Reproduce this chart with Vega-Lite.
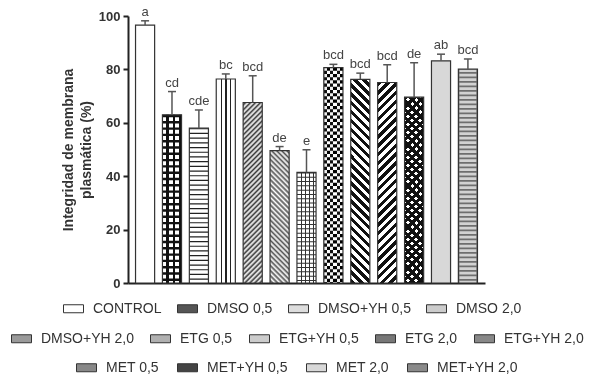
{
"$schema":"https://vega.github.io/schema/vega-lite/v6.json",
"width":357,"height":267,
"autosize":{"type":"none"},
"padding":{"left":128,"top":16,"right":107,"bottom":95},
"background":"white",
"data":{"values":[
{"treatment":"CONTROL","value":96.6,"err":98.2,"letter":"a"},
{"treatment":"DMSO 0,5","value":63.0,"err":71.7,"letter":"cd"},
{"treatment":"DMSO+YH 0,5","value":58.0,"err":64.8,"letter":"cde"},
{"treatment":"DMSO 2,0","value":76.4,"err":78.3,"letter":"bc"},
{"treatment":"DMSO+YH 2,0","value":67.6,"err":77.6,"letter":"bcd"},
{"treatment":"ETG 0,5","value":49.6,"err":51.1,"letter":"de"},
{"treatment":"ETG+YH 0,5","value":41.4,"err":49.9,"letter":"e"},
{"treatment":"ETG 2,0","value":80.7,"err":81.9,"letter":"bcd"},
{"treatment":"ETG+YH 2,0","value":76.3,"err":78.6,"letter":"bcd"},
{"treatment":"MET 0,5","value":75.1,"err":81.7,"letter":"bcd"},
{"treatment":"MET+YH 0,5","value":69.6,"err":82.5,"letter":"de"},
{"treatment":"MET 2,0","value":83.2,"err":85.7,"letter":"ab"},
{"treatment":"MET+YH 2,0","value":80.1,"err":83.9,"letter":"bcd"}
]},
"encoding":{
"x":{"field":"treatment","type":"nominal","sort":null,
"scale":{"domain":["CONTROL","DMSO 0,5","DMSO+YH 0,5","DMSO 2,0","DMSO+YH 2,0","ETG 0,5","ETG+YH 0,5","ETG 2,0","ETG+YH 2,0","MET 0,5","MET+YH 0,5","MET 2,0","MET+YH 2,0"],"paddingInner":0.29,"paddingOuter":0.28},
"axis":{"labels":false,"ticks":false,"title":null,"domainColor":"#222","domainWidth":2}},
"y":{"field":"value","type":"quantitative","scale":{"domain":[0,100],"nice":false},"title":["Integridad de membrana","plasmática (%)"],
"axis":{"values":[0,20,40,60,80,100],"grid":false,"domainColor":"#222","domainWidth":2,"tickColor":"#222","tickWidth":2,"tickSize":5,"labelFontSize":13,"labelFontWeight":"bold","labelColor":"#333","labelPadding":3,"titleFontSize":14,"titleFontWeight":"bold","titleColor":"#333","titlePadding":5,"titleLineHeight":18}}
},
"layer":[
{"transform":[{"filter":{"field":"treatment","oneOf":["CONTROL","DMSO 0,5","DMSO+YH 0,5","DMSO 2,0"]}}],
"mark":{"type":"bar","strokeWidth":0},
"encoding":{"fill":{"field":"treatment","type":"nominal","sort":null,
"scale":{"domain":["CONTROL","DMSO 0,5","DMSO+YH 0,5","DMSO 2,0"],"range":["#ffffff","#555555","#dddddd","#cccccc"]},
"condition":[
{"test":"datum.treatment === 'DMSO 0,5'","value":{"gradient":"linear","x1":0,"y1":0,"x2":1,"y2":0,"stops":[{"offset":0,"color":"#fff"},{"offset":0.2,"color":"#fff"},{"offset":0.2,"color":"#111"},{"offset":0.34,"color":"#111"},{"offset":0.34,"color":"#fff"},{"offset":0.53,"color":"#fff"},{"offset":0.53,"color":"#111"},{"offset":0.67,"color":"#111"},{"offset":0.67,"color":"#fff"},{"offset":0.86,"color":"#fff"},{"offset":0.86,"color":"#111"},{"offset":1,"color":"#111"}]}},
{"test":"datum.treatment === 'DMSO+YH 0,5'","value":"#ffffff"},
{"test":"datum.treatment === 'DMSO 2,0'","value":{"gradient":"linear","x1":0,"y1":0,"x2":1,"y2":0,"stops":[{"offset":0,"color":"#fff"},{"offset":0.23,"color":"#fff"},{"offset":0.23,"color":"#222"},{"offset":0.29,"color":"#222"},{"offset":0.29,"color":"#fff"},{"offset":0.48,"color":"#fff"},{"offset":0.48,"color":"#222"},{"offset":0.54,"color":"#222"},{"offset":0.54,"color":"#fff"},{"offset":0.73,"color":"#fff"},{"offset":0.73,"color":"#222"},{"offset":0.79,"color":"#222"},{"offset":0.79,"color":"#fff"},{"offset":1,"color":"#fff"}]}}
],
"legend":{"title":null,"orient":"none","legendX":-65,"legendY":282,"direction":"horizontal","columns":4,"symbolType":"M-1,-0.4H1V0.4H-1Z","symbolSize":400,"symbolStrokeColor":"#333","symbolStrokeWidth":1,"labelFontSize":14,"labelColor":"#333","labelOffset":9,"columnPadding":13,"padding":0,"labelLimit":300}}}},
{"transform":[{"filter":{"field":"treatment","oneOf":["DMSO+YH 2,0","ETG 0,5","ETG+YH 0,5","ETG 2,0","ETG+YH 2,0"]}}],
"mark":{"type":"bar","strokeWidth":0},
"encoding":{"fill":{"field":"treatment","type":"nominal","sort":null,
"scale":{"domain":["DMSO+YH 2,0","ETG 0,5","ETG+YH 0,5","ETG 2,0","ETG+YH 2,0"],"range":["#9a9a9a","#b0b0b0","#cccccc","#777777","#888888"]},
"condition":[
{"test":"datum.treatment === 'DMSO+YH 2,0'","value":{"gradient":"linear","x1":0,"y1":0,"x2":0.1157,"y2":1.0936,"stops":[{"offset":0,"color":"#fff"},{"offset":0.0125,"color":"#3a3a3a"},{"offset":0.025,"color":"#fff"},{"offset":0.0375,"color":"#3a3a3a"},{"offset":0.05,"color":"#fff"},{"offset":0.0625,"color":"#3a3a3a"},{"offset":0.075,"color":"#fff"},{"offset":0.0875,"color":"#3a3a3a"},{"offset":0.1,"color":"#fff"},{"offset":0.1125,"color":"#3a3a3a"},{"offset":0.125,"color":"#fff"},{"offset":0.1375,"color":"#3a3a3a"},{"offset":0.15,"color":"#fff"},{"offset":0.1625,"color":"#3a3a3a"},{"offset":0.175,"color":"#fff"},{"offset":0.1875,"color":"#3a3a3a"},{"offset":0.2,"color":"#fff"},{"offset":0.2125,"color":"#3a3a3a"},{"offset":0.225,"color":"#fff"},{"offset":0.2375,"color":"#3a3a3a"},{"offset":0.25,"color":"#fff"},{"offset":0.2625,"color":"#3a3a3a"},{"offset":0.275,"color":"#fff"},{"offset":0.2875,"color":"#3a3a3a"},{"offset":0.3,"color":"#fff"},{"offset":0.3125,"color":"#3a3a3a"},{"offset":0.325,"color":"#fff"},{"offset":0.3375,"color":"#3a3a3a"},{"offset":0.35,"color":"#fff"},{"offset":0.3625,"color":"#3a3a3a"},{"offset":0.375,"color":"#fff"},{"offset":0.3875,"color":"#3a3a3a"},{"offset":0.4,"color":"#fff"},{"offset":0.4125,"color":"#3a3a3a"},{"offset":0.425,"color":"#fff"},{"offset":0.4375,"color":"#3a3a3a"},{"offset":0.45,"color":"#fff"},{"offset":0.4625,"color":"#3a3a3a"},{"offset":0.475,"color":"#fff"},{"offset":0.4875,"color":"#3a3a3a"},{"offset":0.5,"color":"#fff"},{"offset":0.5125,"color":"#3a3a3a"},{"offset":0.525,"color":"#fff"},{"offset":0.5375,"color":"#3a3a3a"},{"offset":0.55,"color":"#fff"},{"offset":0.5625,"color":"#3a3a3a"},{"offset":0.575,"color":"#fff"},{"offset":0.5875,"color":"#3a3a3a"},{"offset":0.6,"color":"#fff"},{"offset":0.6125,"color":"#3a3a3a"},{"offset":0.625,"color":"#fff"},{"offset":0.6375,"color":"#3a3a3a"},{"offset":0.65,"color":"#fff"},{"offset":0.6625,"color":"#3a3a3a"},{"offset":0.675,"color":"#fff"},{"offset":0.6875,"color":"#3a3a3a"},{"offset":0.7,"color":"#fff"},{"offset":0.7125,"color":"#3a3a3a"},{"offset":0.725,"color":"#fff"},{"offset":0.7375,"color":"#3a3a3a"},{"offset":0.75,"color":"#fff"},{"offset":0.7625,"color":"#3a3a3a"},{"offset":0.775,"color":"#fff"},{"offset":0.7875,"color":"#3a3a3a"},{"offset":0.8,"color":"#fff"},{"offset":0.8125,"color":"#3a3a3a"},{"offset":0.825,"color":"#fff"},{"offset":0.8375,"color":"#3a3a3a"},{"offset":0.85,"color":"#fff"},{"offset":0.8625,"color":"#3a3a3a"},{"offset":0.875,"color":"#fff"},{"offset":0.8875,"color":"#3a3a3a"},{"offset":0.9,"color":"#fff"},{"offset":0.9125,"color":"#3a3a3a"},{"offset":0.925,"color":"#fff"},{"offset":0.9375,"color":"#3a3a3a"},{"offset":0.95,"color":"#fff"},{"offset":0.9625,"color":"#3a3a3a"},{"offset":0.975,"color":"#fff"},{"offset":0.9875,"color":"#3a3a3a"},{"offset":1,"color":"#fff"}]}},
{"test":"datum.treatment === 'ETG 0,5'","value":{"gradient":"linear","x1":0,"y1":1,"x2":0.1617,"y2":-0.1209,"stops":[{"offset":0,"color":"#fff"},{"offset":0.0167,"color":"#555"},{"offset":0.0333,"color":"#fff"},{"offset":0.05,"color":"#555"},{"offset":0.0667,"color":"#fff"},{"offset":0.0833,"color":"#555"},{"offset":0.1,"color":"#fff"},{"offset":0.1167,"color":"#555"},{"offset":0.1333,"color":"#fff"},{"offset":0.15,"color":"#555"},{"offset":0.1667,"color":"#fff"},{"offset":0.1833,"color":"#555"},{"offset":0.2,"color":"#fff"},{"offset":0.2167,"color":"#555"},{"offset":0.2333,"color":"#fff"},{"offset":0.25,"color":"#555"},{"offset":0.2667,"color":"#fff"},{"offset":0.2833,"color":"#555"},{"offset":0.3,"color":"#fff"},{"offset":0.3167,"color":"#555"},{"offset":0.3333,"color":"#fff"},{"offset":0.35,"color":"#555"},{"offset":0.3667,"color":"#fff"},{"offset":0.3833,"color":"#555"},{"offset":0.4,"color":"#fff"},{"offset":0.4167,"color":"#555"},{"offset":0.4333,"color":"#fff"},{"offset":0.45,"color":"#555"},{"offset":0.4667,"color":"#fff"},{"offset":0.4833,"color":"#555"},{"offset":0.5,"color":"#fff"},{"offset":0.5167,"color":"#555"},{"offset":0.5333,"color":"#fff"},{"offset":0.55,"color":"#555"},{"offset":0.5667,"color":"#fff"},{"offset":0.5833,"color":"#555"},{"offset":0.6,"color":"#fff"},{"offset":0.6167,"color":"#555"},{"offset":0.6333,"color":"#fff"},{"offset":0.65,"color":"#555"},{"offset":0.6667,"color":"#fff"},{"offset":0.6833,"color":"#555"},{"offset":0.7,"color":"#fff"},{"offset":0.7167,"color":"#555"},{"offset":0.7333,"color":"#fff"},{"offset":0.75,"color":"#555"},{"offset":0.7667,"color":"#fff"},{"offset":0.7833,"color":"#555"},{"offset":0.8,"color":"#fff"},{"offset":0.8167,"color":"#555"},{"offset":0.8333,"color":"#fff"},{"offset":0.85,"color":"#555"},{"offset":0.8667,"color":"#fff"},{"offset":0.8833,"color":"#555"},{"offset":0.9,"color":"#fff"},{"offset":0.9167,"color":"#555"},{"offset":0.9333,"color":"#fff"},{"offset":0.95,"color":"#555"},{"offset":0.9667,"color":"#fff"},{"offset":0.9833,"color":"#555"},{"offset":1,"color":"#fff"}]}},
{"test":"datum.treatment === 'ETG+YH 0,5'","value":{"gradient":"linear","x1":0,"y1":0,"x2":1,"y2":0,"stops":[{"offset":0,"color":"#fff"},{"offset":0.19,"color":"#fff"},{"offset":0.19,"color":"#333"},{"offset":0.24,"color":"#333"},{"offset":0.24,"color":"#fff"},{"offset":0.41,"color":"#fff"},{"offset":0.41,"color":"#333"},{"offset":0.46,"color":"#333"},{"offset":0.46,"color":"#fff"},{"offset":0.62,"color":"#fff"},{"offset":0.62,"color":"#333"},{"offset":0.67,"color":"#333"},{"offset":0.67,"color":"#fff"},{"offset":0.83,"color":"#fff"},{"offset":0.83,"color":"#333"},{"offset":0.88,"color":"#333"},{"offset":0.88,"color":"#fff"},{"offset":1,"color":"#fff"}]}},
{"test":"datum.treatment === 'ETG 2,0'","value":{"gradient":"linear","x1":0,"y1":0,"x2":1,"y2":0,"stops":[{"offset":0,"color":"#111"},{"offset":0.1667,"color":"#111"},{"offset":0.1667,"color":"#fff"},{"offset":0.3333,"color":"#fff"},{"offset":0.3333,"color":"#111"},{"offset":0.5,"color":"#111"},{"offset":0.5,"color":"#fff"},{"offset":0.6667,"color":"#fff"},{"offset":0.6667,"color":"#111"},{"offset":0.8333,"color":"#111"},{"offset":0.8333,"color":"#fff"},{"offset":1,"color":"#fff"}]}},
{"test":"datum.treatment === 'ETG+YH 2,0'","value":{"gradient":"linear","x1":0,"y1":1,"x2":0.1017,"y2":-0.0843,"stops":[{"offset":0,"color":"#111"},{"offset":0.02,"color":"#111"},{"offset":0.02,"color":"#fff"},{"offset":0.04,"color":"#fff"},{"offset":0.04,"color":"#111"},{"offset":0.06,"color":"#111"},{"offset":0.06,"color":"#fff"},{"offset":0.08,"color":"#fff"},{"offset":0.08,"color":"#111"},{"offset":0.1,"color":"#111"},{"offset":0.1,"color":"#fff"},{"offset":0.12,"color":"#fff"},{"offset":0.12,"color":"#111"},{"offset":0.14,"color":"#111"},{"offset":0.14,"color":"#fff"},{"offset":0.16,"color":"#fff"},{"offset":0.16,"color":"#111"},{"offset":0.18,"color":"#111"},{"offset":0.18,"color":"#fff"},{"offset":0.2,"color":"#fff"},{"offset":0.2,"color":"#111"},{"offset":0.22,"color":"#111"},{"offset":0.22,"color":"#fff"},{"offset":0.24,"color":"#fff"},{"offset":0.24,"color":"#111"},{"offset":0.26,"color":"#111"},{"offset":0.26,"color":"#fff"},{"offset":0.28,"color":"#fff"},{"offset":0.28,"color":"#111"},{"offset":0.3,"color":"#111"},{"offset":0.3,"color":"#fff"},{"offset":0.32,"color":"#fff"},{"offset":0.32,"color":"#111"},{"offset":0.34,"color":"#111"},{"offset":0.34,"color":"#fff"},{"offset":0.36,"color":"#fff"},{"offset":0.36,"color":"#111"},{"offset":0.38,"color":"#111"},{"offset":0.38,"color":"#fff"},{"offset":0.4,"color":"#fff"},{"offset":0.4,"color":"#111"},{"offset":0.42,"color":"#111"},{"offset":0.42,"color":"#fff"},{"offset":0.44,"color":"#fff"},{"offset":0.44,"color":"#111"},{"offset":0.46,"color":"#111"},{"offset":0.46,"color":"#fff"},{"offset":0.48,"color":"#fff"},{"offset":0.48,"color":"#111"},{"offset":0.5,"color":"#111"},{"offset":0.5,"color":"#fff"},{"offset":0.52,"color":"#fff"},{"offset":0.52,"color":"#111"},{"offset":0.54,"color":"#111"},{"offset":0.54,"color":"#fff"},{"offset":0.56,"color":"#fff"},{"offset":0.56,"color":"#111"},{"offset":0.58,"color":"#111"},{"offset":0.58,"color":"#fff"},{"offset":0.6,"color":"#fff"},{"offset":0.6,"color":"#111"},{"offset":0.62,"color":"#111"},{"offset":0.62,"color":"#fff"},{"offset":0.64,"color":"#fff"},{"offset":0.64,"color":"#111"},{"offset":0.66,"color":"#111"},{"offset":0.66,"color":"#fff"},{"offset":0.68,"color":"#fff"},{"offset":0.68,"color":"#111"},{"offset":0.7,"color":"#111"},{"offset":0.7,"color":"#fff"},{"offset":0.72,"color":"#fff"},{"offset":0.72,"color":"#111"},{"offset":0.74,"color":"#111"},{"offset":0.74,"color":"#fff"},{"offset":0.76,"color":"#fff"},{"offset":0.76,"color":"#111"},{"offset":0.78,"color":"#111"},{"offset":0.78,"color":"#fff"},{"offset":0.8,"color":"#fff"},{"offset":0.8,"color":"#111"},{"offset":0.82,"color":"#111"},{"offset":0.82,"color":"#fff"},{"offset":0.84,"color":"#fff"},{"offset":0.84,"color":"#111"},{"offset":0.86,"color":"#111"},{"offset":0.86,"color":"#fff"},{"offset":0.88,"color":"#fff"},{"offset":0.88,"color":"#111"},{"offset":0.9,"color":"#111"},{"offset":0.9,"color":"#fff"},{"offset":0.92,"color":"#fff"},{"offset":0.92,"color":"#111"},{"offset":0.94,"color":"#111"},{"offset":0.94,"color":"#fff"},{"offset":0.96,"color":"#fff"},{"offset":0.96,"color":"#111"},{"offset":0.98,"color":"#111"},{"offset":0.98,"color":"#fff"},{"offset":1,"color":"#fff"}]}}
],
"legend":{"title":null,"orient":"none","legendX":-117,"legendY":312,"direction":"horizontal","columns":5,"symbolType":"M-1,-0.4H1V0.4H-1Z","symbolSize":400,"symbolStrokeColor":"#333","symbolStrokeWidth":1,"labelFontSize":14,"labelColor":"#333","labelOffset":9,"columnPadding":14,"padding":0,"labelLimit":300}}}},
{"transform":[{"filter":{"field":"treatment","oneOf":["MET 0,5","MET+YH 0,5","MET 2,0","MET+YH 2,0"]}}],
"mark":{"type":"bar","strokeWidth":0},
"encoding":{"fill":{"field":"treatment","type":"nominal","sort":null,
"scale":{"domain":["MET 0,5","MET+YH 0,5","MET 2,0","MET+YH 2,0"],"range":["#888888","#444444","#d8d8d8","#8a8a8a"]},
"condition":[
{"test":"datum.treatment === 'MET 0,5'","value":{"gradient":"linear","x1":0,"y1":0,"x2":0.1034,"y2":1.0855,"stops":[{"offset":0,"color":"#111"},{"offset":0.02,"color":"#111"},{"offset":0.02,"color":"#fff"},{"offset":0.04,"color":"#fff"},{"offset":0.04,"color":"#111"},{"offset":0.06,"color":"#111"},{"offset":0.06,"color":"#fff"},{"offset":0.08,"color":"#fff"},{"offset":0.08,"color":"#111"},{"offset":0.1,"color":"#111"},{"offset":0.1,"color":"#fff"},{"offset":0.12,"color":"#fff"},{"offset":0.12,"color":"#111"},{"offset":0.14,"color":"#111"},{"offset":0.14,"color":"#fff"},{"offset":0.16,"color":"#fff"},{"offset":0.16,"color":"#111"},{"offset":0.18,"color":"#111"},{"offset":0.18,"color":"#fff"},{"offset":0.2,"color":"#fff"},{"offset":0.2,"color":"#111"},{"offset":0.22,"color":"#111"},{"offset":0.22,"color":"#fff"},{"offset":0.24,"color":"#fff"},{"offset":0.24,"color":"#111"},{"offset":0.26,"color":"#111"},{"offset":0.26,"color":"#fff"},{"offset":0.28,"color":"#fff"},{"offset":0.28,"color":"#111"},{"offset":0.3,"color":"#111"},{"offset":0.3,"color":"#fff"},{"offset":0.32,"color":"#fff"},{"offset":0.32,"color":"#111"},{"offset":0.34,"color":"#111"},{"offset":0.34,"color":"#fff"},{"offset":0.36,"color":"#fff"},{"offset":0.36,"color":"#111"},{"offset":0.38,"color":"#111"},{"offset":0.38,"color":"#fff"},{"offset":0.4,"color":"#fff"},{"offset":0.4,"color":"#111"},{"offset":0.42,"color":"#111"},{"offset":0.42,"color":"#fff"},{"offset":0.44,"color":"#fff"},{"offset":0.44,"color":"#111"},{"offset":0.46,"color":"#111"},{"offset":0.46,"color":"#fff"},{"offset":0.48,"color":"#fff"},{"offset":0.48,"color":"#111"},{"offset":0.5,"color":"#111"},{"offset":0.5,"color":"#fff"},{"offset":0.52,"color":"#fff"},{"offset":0.52,"color":"#111"},{"offset":0.54,"color":"#111"},{"offset":0.54,"color":"#fff"},{"offset":0.56,"color":"#fff"},{"offset":0.56,"color":"#111"},{"offset":0.58,"color":"#111"},{"offset":0.58,"color":"#fff"},{"offset":0.6,"color":"#fff"},{"offset":0.6,"color":"#111"},{"offset":0.62,"color":"#111"},{"offset":0.62,"color":"#fff"},{"offset":0.64,"color":"#fff"},{"offset":0.64,"color":"#111"},{"offset":0.66,"color":"#111"},{"offset":0.66,"color":"#fff"},{"offset":0.68,"color":"#fff"},{"offset":0.68,"color":"#111"},{"offset":0.7,"color":"#111"},{"offset":0.7,"color":"#fff"},{"offset":0.72,"color":"#fff"},{"offset":0.72,"color":"#111"},{"offset":0.74,"color":"#111"},{"offset":0.74,"color":"#fff"},{"offset":0.76,"color":"#fff"},{"offset":0.76,"color":"#111"},{"offset":0.78,"color":"#111"},{"offset":0.78,"color":"#fff"},{"offset":0.8,"color":"#fff"},{"offset":0.8,"color":"#111"},{"offset":0.82,"color":"#111"},{"offset":0.82,"color":"#fff"},{"offset":0.84,"color":"#fff"},{"offset":0.84,"color":"#111"},{"offset":0.86,"color":"#111"},{"offset":0.86,"color":"#fff"},{"offset":0.88,"color":"#fff"},{"offset":0.88,"color":"#111"},{"offset":0.9,"color":"#111"},{"offset":0.9,"color":"#fff"},{"offset":0.92,"color":"#fff"},{"offset":0.92,"color":"#111"},{"offset":0.94,"color":"#111"},{"offset":0.94,"color":"#fff"},{"offset":0.96,"color":"#fff"},{"offset":0.96,"color":"#111"},{"offset":0.98,"color":"#111"},{"offset":0.98,"color":"#fff"},{"offset":1,"color":"#fff"}]}},
{"test":"datum.treatment === 'MET+YH 0,5'","value":{"gradient":"linear","x1":0,"y1":0,"x2":0.1122,"y2":1.0918,"stops":[{"offset":0,"color":"#111"},{"offset":0.02,"color":"#111"},{"offset":0.02,"color":"#fff"},{"offset":0.04,"color":"#fff"},{"offset":0.04,"color":"#111"},{"offset":0.06,"color":"#111"},{"offset":0.06,"color":"#fff"},{"offset":0.08,"color":"#fff"},{"offset":0.08,"color":"#111"},{"offset":0.1,"color":"#111"},{"offset":0.1,"color":"#fff"},{"offset":0.12,"color":"#fff"},{"offset":0.12,"color":"#111"},{"offset":0.14,"color":"#111"},{"offset":0.14,"color":"#fff"},{"offset":0.16,"color":"#fff"},{"offset":0.16,"color":"#111"},{"offset":0.18,"color":"#111"},{"offset":0.18,"color":"#fff"},{"offset":0.2,"color":"#fff"},{"offset":0.2,"color":"#111"},{"offset":0.22,"color":"#111"},{"offset":0.22,"color":"#fff"},{"offset":0.24,"color":"#fff"},{"offset":0.24,"color":"#111"},{"offset":0.26,"color":"#111"},{"offset":0.26,"color":"#fff"},{"offset":0.28,"color":"#fff"},{"offset":0.28,"color":"#111"},{"offset":0.3,"color":"#111"},{"offset":0.3,"color":"#fff"},{"offset":0.32,"color":"#fff"},{"offset":0.32,"color":"#111"},{"offset":0.34,"color":"#111"},{"offset":0.34,"color":"#fff"},{"offset":0.36,"color":"#fff"},{"offset":0.36,"color":"#111"},{"offset":0.38,"color":"#111"},{"offset":0.38,"color":"#fff"},{"offset":0.4,"color":"#fff"},{"offset":0.4,"color":"#111"},{"offset":0.42,"color":"#111"},{"offset":0.42,"color":"#fff"},{"offset":0.44,"color":"#fff"},{"offset":0.44,"color":"#111"},{"offset":0.46,"color":"#111"},{"offset":0.46,"color":"#fff"},{"offset":0.48,"color":"#fff"},{"offset":0.48,"color":"#111"},{"offset":0.5,"color":"#111"},{"offset":0.5,"color":"#fff"},{"offset":0.52,"color":"#fff"},{"offset":0.52,"color":"#111"},{"offset":0.54,"color":"#111"},{"offset":0.54,"color":"#fff"},{"offset":0.56,"color":"#fff"},{"offset":0.56,"color":"#111"},{"offset":0.58,"color":"#111"},{"offset":0.58,"color":"#fff"},{"offset":0.6,"color":"#fff"},{"offset":0.6,"color":"#111"},{"offset":0.62,"color":"#111"},{"offset":0.62,"color":"#fff"},{"offset":0.64,"color":"#fff"},{"offset":0.64,"color":"#111"},{"offset":0.66,"color":"#111"},{"offset":0.66,"color":"#fff"},{"offset":0.68,"color":"#fff"},{"offset":0.68,"color":"#111"},{"offset":0.7,"color":"#111"},{"offset":0.7,"color":"#fff"},{"offset":0.72,"color":"#fff"},{"offset":0.72,"color":"#111"},{"offset":0.74,"color":"#111"},{"offset":0.74,"color":"#fff"},{"offset":0.76,"color":"#fff"},{"offset":0.76,"color":"#111"},{"offset":0.78,"color":"#111"},{"offset":0.78,"color":"#fff"},{"offset":0.8,"color":"#fff"},{"offset":0.8,"color":"#111"},{"offset":0.82,"color":"#111"},{"offset":0.82,"color":"#fff"},{"offset":0.84,"color":"#fff"},{"offset":0.84,"color":"#111"},{"offset":0.86,"color":"#111"},{"offset":0.86,"color":"#fff"},{"offset":0.88,"color":"#fff"},{"offset":0.88,"color":"#111"},{"offset":0.9,"color":"#111"},{"offset":0.9,"color":"#fff"},{"offset":0.92,"color":"#fff"},{"offset":0.92,"color":"#111"},{"offset":0.94,"color":"#111"},{"offset":0.94,"color":"#fff"},{"offset":0.96,"color":"#fff"},{"offset":0.96,"color":"#111"},{"offset":0.98,"color":"#111"},{"offset":0.98,"color":"#fff"},{"offset":1,"color":"#fff"}]}},
{"test":"datum.treatment === 'MET+YH 2,0'","value":"#6e6e6e"}
],
"legend":{"title":null,"orient":"none","legendX":-52,"legendY":341,"direction":"horizontal","columns":4,"symbolType":"M-1,-0.4H1V0.4H-1Z","symbolSize":400,"symbolStrokeColor":"#333","symbolStrokeWidth":1,"labelFontSize":14,"labelColor":"#333","labelOffset":9,"columnPadding":16,"padding":0,"labelLimit":300}}}},
{"transform":[{"filter":"datum.treatment === 'DMSO 0,5'"}],
"mark":{"type":"rule","stroke":"#111","strokeWidth":19,"strokeDash":[2.4,3.9]},
"encoding":{"y2":{"datum":0}}},
{"transform":[{"filter":"datum.treatment === 'DMSO+YH 0,5'"}],
"mark":{"type":"rule","stroke":"#222","strokeWidth":19,"strokeDash":[1.2,3.5]},
"encoding":{"y2":{"datum":0}}},
{"transform":[{"filter":"datum.treatment === 'ETG+YH 0,5'"}],
"mark":{"type":"rule","stroke":"#333","strokeWidth":19,"strokeDash":[1,3.3]},
"encoding":{"y2":{"datum":0}}},
{"transform":[{"filter":"datum.treatment === 'ETG 2,0'"}],
"mark":{"type":"rule","stroke":"#fff","strokeWidth":19.2,"strokeDash":[3.2,3.2],"blend":"difference"},
"encoding":{"y2":{"datum":0}}},
{"transform":[{"filter":"datum.treatment === 'MET+YH 2,0'"}],
"mark":{"type":"rule","stroke":"#d2d2d2","strokeWidth":17,"strokeDash":[2.8,1.7]},
"encoding":{"y2":{"datum":0}}},
{"transform":[{"filter":"datum.treatment === 'MET+YH 0,5'"}],
"mark":{"type":"bar","strokeWidth":0,"fill":{"gradient":"linear","x1":0,"y1":1,"x2":0.1122,"y2":-0.0918,"stops":[{"offset":0,"color":"#111"},{"offset":0.02,"color":"#111"},{"offset":0.02,"color":"transparent"},{"offset":0.04,"color":"transparent"},{"offset":0.04,"color":"#111"},{"offset":0.06,"color":"#111"},{"offset":0.06,"color":"transparent"},{"offset":0.08,"color":"transparent"},{"offset":0.08,"color":"#111"},{"offset":0.1,"color":"#111"},{"offset":0.1,"color":"transparent"},{"offset":0.12,"color":"transparent"},{"offset":0.12,"color":"#111"},{"offset":0.14,"color":"#111"},{"offset":0.14,"color":"transparent"},{"offset":0.16,"color":"transparent"},{"offset":0.16,"color":"#111"},{"offset":0.18,"color":"#111"},{"offset":0.18,"color":"transparent"},{"offset":0.2,"color":"transparent"},{"offset":0.2,"color":"#111"},{"offset":0.22,"color":"#111"},{"offset":0.22,"color":"transparent"},{"offset":0.24,"color":"transparent"},{"offset":0.24,"color":"#111"},{"offset":0.26,"color":"#111"},{"offset":0.26,"color":"transparent"},{"offset":0.28,"color":"transparent"},{"offset":0.28,"color":"#111"},{"offset":0.3,"color":"#111"},{"offset":0.3,"color":"transparent"},{"offset":0.32,"color":"transparent"},{"offset":0.32,"color":"#111"},{"offset":0.34,"color":"#111"},{"offset":0.34,"color":"transparent"},{"offset":0.36,"color":"transparent"},{"offset":0.36,"color":"#111"},{"offset":0.38,"color":"#111"},{"offset":0.38,"color":"transparent"},{"offset":0.4,"color":"transparent"},{"offset":0.4,"color":"#111"},{"offset":0.42,"color":"#111"},{"offset":0.42,"color":"transparent"},{"offset":0.44,"color":"transparent"},{"offset":0.44,"color":"#111"},{"offset":0.46,"color":"#111"},{"offset":0.46,"color":"transparent"},{"offset":0.48,"color":"transparent"},{"offset":0.48,"color":"#111"},{"offset":0.5,"color":"#111"},{"offset":0.5,"color":"transparent"},{"offset":0.52,"color":"transparent"},{"offset":0.52,"color":"#111"},{"offset":0.54,"color":"#111"},{"offset":0.54,"color":"transparent"},{"offset":0.56,"color":"transparent"},{"offset":0.56,"color":"#111"},{"offset":0.58,"color":"#111"},{"offset":0.58,"color":"transparent"},{"offset":0.6,"color":"transparent"},{"offset":0.6,"color":"#111"},{"offset":0.62,"color":"#111"},{"offset":0.62,"color":"transparent"},{"offset":0.64,"color":"transparent"},{"offset":0.64,"color":"#111"},{"offset":0.66,"color":"#111"},{"offset":0.66,"color":"transparent"},{"offset":0.68,"color":"transparent"},{"offset":0.68,"color":"#111"},{"offset":0.7,"color":"#111"},{"offset":0.7,"color":"transparent"},{"offset":0.72,"color":"transparent"},{"offset":0.72,"color":"#111"},{"offset":0.74,"color":"#111"},{"offset":0.74,"color":"transparent"},{"offset":0.76,"color":"transparent"},{"offset":0.76,"color":"#111"},{"offset":0.78,"color":"#111"},{"offset":0.78,"color":"transparent"},{"offset":0.8,"color":"transparent"},{"offset":0.8,"color":"#111"},{"offset":0.82,"color":"#111"},{"offset":0.82,"color":"transparent"},{"offset":0.84,"color":"transparent"},{"offset":0.84,"color":"#111"},{"offset":0.86,"color":"#111"},{"offset":0.86,"color":"transparent"},{"offset":0.88,"color":"transparent"},{"offset":0.88,"color":"#111"},{"offset":0.9,"color":"#111"},{"offset":0.9,"color":"transparent"},{"offset":0.92,"color":"transparent"},{"offset":0.92,"color":"#111"},{"offset":0.94,"color":"#111"},{"offset":0.94,"color":"transparent"},{"offset":0.96,"color":"transparent"},{"offset":0.96,"color":"#111"},{"offset":0.98,"color":"#111"},{"offset":0.98,"color":"transparent"},{"offset":1,"color":"transparent"}]}},
"encoding":{}},
{"mark":{"type":"bar","fill":"transparent","stroke":"#333","strokeWidth":1.2},"encoding":{}},
{"mark":{"type":"rule","stroke":"#555","strokeWidth":1.5},"encoding":{"y2":{"field":"err"}}},
{"mark":{"type":"tick","orient":"horizontal","size":8,"thickness":1.5,"color":"#555","opacity":1},
"encoding":{"y":{"field":"err","type":"quantitative","title":["Integridad de membrana","plasmática (%)"]}}},
{"mark":{"type":"text","baseline":"bottom","dy":-2,"fontSize":13,"color":"#444"},
"encoding":{"y":{"field":"err","type":"quantitative","title":["Integridad de membrana","plasmática (%)"]},"text":{"field":"letter"}}}
],
"resolve":{"scale":{"fill":"independent"},"legend":{"fill":"independent"}},
"config":{"view":{"stroke":null},"font":"Liberation Sans",
"axis":{"labelFont":"Liberation Sans","titleFont":"Liberation Sans"},
"axisY":{"labelFontSize":13,"labelFontWeight":"bold","labelColor":"#333","titleFontSize":14,"titleFontWeight":"bold","titleColor":"#333","tickSize":5,"tickWidth":2,"tickColor":"#222","domainColor":"#222","domainWidth":2,"labelPadding":3,"grid":false},
"legend":{"labelFont":"Liberation Sans"}}
}
